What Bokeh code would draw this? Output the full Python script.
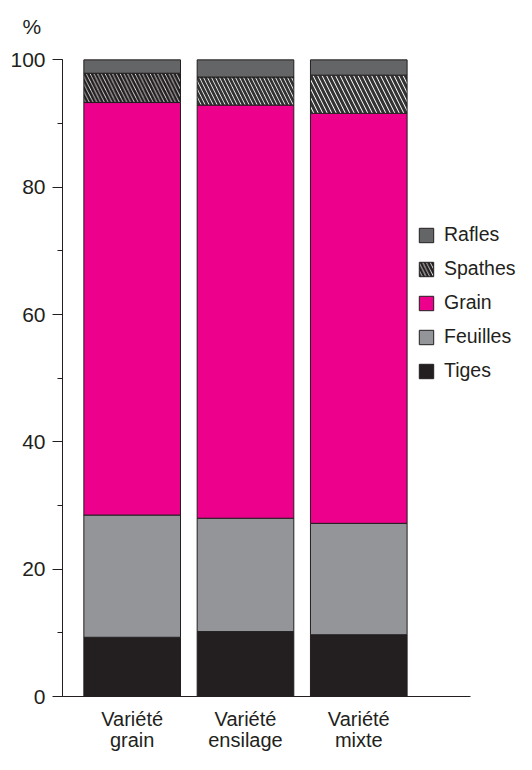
import numpy as np
from bokeh.plotting import figure
from bokeh.models import (Legend, LegendItem, LinearAxis, SingleIntervalTicker,
                          FixedTicker, Range1d)
from bokeh.embed import file_html
from bokeh.resources import INLINE

# ---- data ----
varieties = ["Variété grain", "Variété ensilage", "Variété mixte"]
tiges = [9.3, 10.2, 9.7]
feuilles = [19.2, 17.8, 17.5]
grain = [64.8, 64.9, 64.4]
spathes = [4.6, 4.4, 6.0]
rafles = [2.1, 2.7, 2.4]
y_interval = 20
unit_label = "%"

FONT = "Liberation Sans"
INK = "#231F20"

xs = list(range(1, len(varieties) + 1))
series = [("Tiges", tiges), ("Feuilles", feuilles), ("Grain", grain),
          ("Spathes", spathes), ("Rafles", rafles)]
stack = np.cumsum(np.array([s for _, s in series]), axis=0)
bottoms = np.vstack([np.zeros(len(xs)), stack[:-1]])

X0, X1 = 0.385, 4.392
p = figure(width=516, height=754, x_range=Range1d(X0, X1), y_range=Range1d(0, 101),
           output_backend="svg", toolbar_location=None,
           min_border_left=62, min_border_right=0, min_border_top=53, min_border_bottom=58)
p.outline_line_color = None
p.xgrid.grid_line_color = None
p.ygrid.grid_line_color = None
p.background_fill_color = "white"

# "%" unit label as title above the axis
p.title.text = unit_label
p.title.align = "left"
p.title.vertical_align = "top"
p.title.offset = -40
p.title.standoff = 28
p.title.text_font = FONT
p.title.text_font_size = "21px"
p.title.text_font_style = "normal"
p.title.text_color = INK

# x axis: first line of labels
line1 = [v.split(" ", 1)[0] for v in varieties]
line2 = [v.split(" ", 1)[1] for v in varieties]
xa = p.xaxis[0]
xa.ticker = FixedTicker(ticks=xs)
xa.bounds = (X0, 3.986)
xa.major_label_overrides = {x: t for x, t in zip(xs, line1)}
xa.axis_line_color = INK
xa.major_tick_line_color = None
xa.minor_tick_line_color = None
xa.major_tick_out = 0
xa.major_tick_in = 0
xa.major_label_standoff = 11
xa.major_label_text_font = FONT
xa.major_label_text_font_size = "20px"
xa.major_label_text_color = INK

# second line of labels
xb = LinearAxis(ticker=FixedTicker(ticks=xs),
                major_label_overrides={x: t for x, t in zip(xs, line2)},
                axis_line_color=None, major_tick_line_color=None, minor_tick_line_color=None,
                major_tick_out=0, major_tick_in=0, major_label_standoff=-4,
                major_label_text_font=FONT, major_label_text_font_size="20px",
                major_label_text_color=INK)
p.add_layout(xb, "below")

p.yaxis.ticker = SingleIntervalTicker(interval=y_interval, num_minor_ticks=2)
p.yaxis.bounds = (0, 100)
p.yaxis.axis_line_color = INK
p.yaxis.major_tick_line_color = INK
p.yaxis.minor_tick_line_color = INK
p.yaxis.major_tick_out = 10
p.yaxis.major_tick_in = 0
p.yaxis.minor_tick_out = 5
p.yaxis.minor_tick_in = 0
p.yaxis.major_label_standoff = 7
p.yaxis.major_label_text_font = FONT
p.yaxis.major_label_text_font_size = "21px"
p.yaxis.major_label_text_color = INK

W = 0.853
colors = {"Tiges": INK, "Feuilles": "#939598", "Grain": "#EC008C", "Rafles": "#646567"}
renderers = {}
for i, (name, vals) in enumerate(series):
    if name == "Spathes":
        styles = [(2.7, 7.5, INK), (2.8, 8.0, "#333333"), (3.1, 9.0, "#333333")]
        rs = []
        for j, (hw, hs, hc) in enumerate(styles):
            r = p.vbar(x=[xs[j]], width=W, bottom=[bottoms[i][j]], top=[stack[i][j]],
                       fill_color="white", line_color=INK, line_width=1,
                       hatch_pattern="left_diagonal_line", hatch_color=hc,
                       hatch_weight=hw, hatch_scale=hs)
            rs.append(r)
        renderers[name] = rs
    else:
        r = p.vbar(x=xs, width=W, bottom=bottoms[i], top=stack[i],
                   fill_color=colors[name], line_color=INK, line_width=1)
        renderers[name] = [r]

order = ["Rafles", "Spathes", "Grain", "Feuilles", "Tiges"]
legend = Legend(items=[LegendItem(label=n, renderers=[renderers[n][0]]) for n in order],
                location=(355, 314), glyph_width=18, glyph_height=18, label_standoff=9,
                spacing=11, padding=0, margin=0, label_text_font=FONT,
                label_text_font_size="19.5px", label_text_color=INK,
                border_line_color=None, background_fill_alpha=0)
p.add_layout(legend, "center")

open("out.html", "w").write(file_html(p, INLINE))
